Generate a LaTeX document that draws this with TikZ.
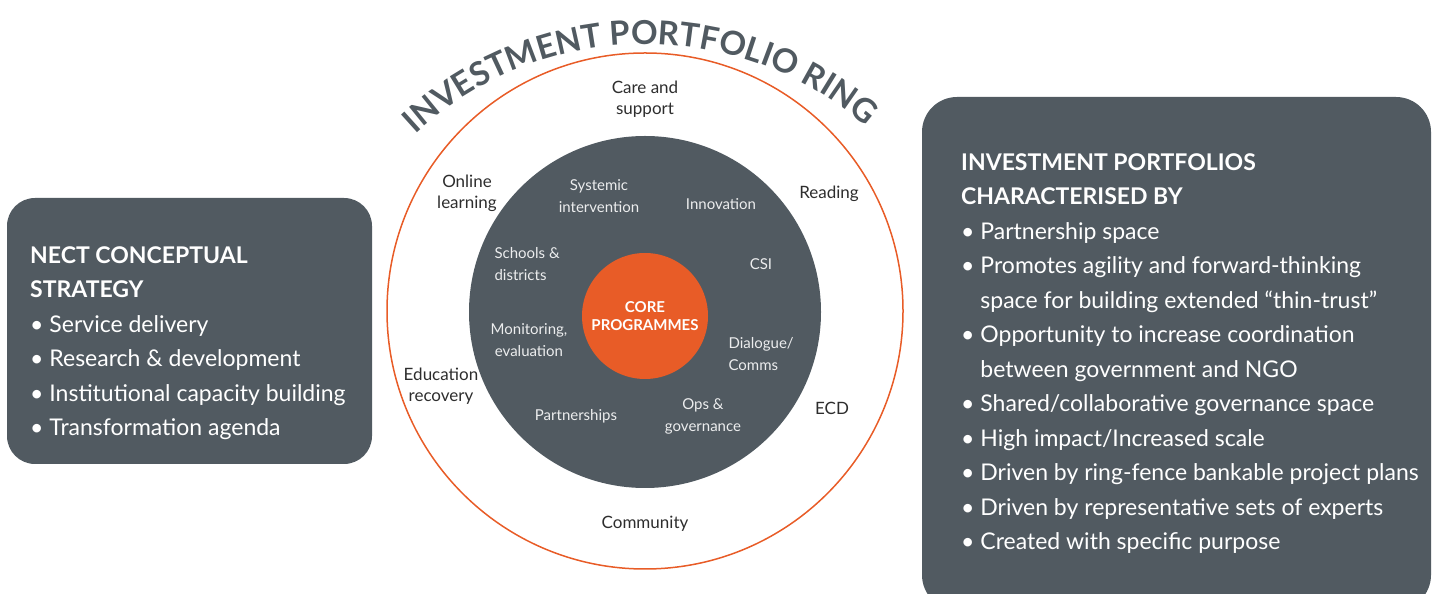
\documentclass[tikz,border=0pt]{standalone}
\usepackage{fontspec}
\setmainfont{Lato}
\usepackage{tikz}
\usetikzlibrary{shapes,positioning,decorations.text}
\definecolor{nectgrey}{RGB}{81,90,97}
\definecolor{nectorange}{RGB}{232,92,39}
\definecolor{ringtext}{RGB}{45,45,45}
\definecolor{softwhite}{RGB}{236,237,238}
\tikzstyle{panel} = [rectangle, fill=nectgrey, inner sep=0pt]
\tikzstyle{paneltext} = [anchor=north west, inner sep=0pt, align=left, text=white, font=\fontsize{23}{34.5}\selectfont]
\tikzstyle{ringlabel} = [align=center, text=ringtext, font=\fontsize{17}{21}\selectfont]
\tikzstyle{corelabel} = [align=center, text=softwhite, font=\fontsize{15}{22}\selectfont]
\newcommand{\bul}{\textbullet~}
\newcommand{\nobul}{\hphantom{\textbullet~}}

\begin{document}
\begin{tikzpicture}[x=1pt, y=1pt]
\useasboundingbox (0,0) rectangle (1438,594);

% Side panels
\node[panel, rounded corners=28pt, minimum width=365pt, minimum height=266pt] (strategy) at (189.5,263) {};
\node[panel, rounded corners=35pt, minimum width=509pt, minimum height=513pt] (traits) at (1176.5,240.5) {};

\node[paneltext] (strategytext) at (30,348) {%
{\bfseries NECT CONCEPTUAL}\\
{\bfseries STRATEGY}\\
\bul Service delivery\\
\bul Research \& development\\
\bul Institutional capacity building\\
\bul Transformation agenda};

\node[paneltext] (traitstext) at (961,441) {%
{\bfseries INVESTMENT PORTFOLIOS}\\
{\bfseries CHARACTERISED BY}\\
\bul Partnership space\\
\bul Promotes agility and forward-thinking\\
\nobul space for building extended “thin-trust”\\
\bul Opportunity to increase coordination\\
\nobul between government and NGO\\
\bul Shared/collaborative governance space\\
\bul High impact/Increased scale\\
\bul Driven by ring-fence bankable project plans\\
\bul Driven by representative sets of experts\\
\bul Created with specific purpose};

% Rings
\node[circle, draw=nectorange, line width=1.5pt, minimum size=516pt, inner sep=0pt] (ring) at (645,283) {};
\node[circle, fill=nectgrey, minimum size=352pt, inner sep=0pt] (portfolio) at (645,282) {};
\node[circle, fill=nectorange, minimum size=126pt, inner sep=0pt, align=center, text=white,
  font=\fontsize{15}{18}\selectfont\bfseries] (core) at (645,278) {CORE\\PROGRAMMES};

% Title along the ring
\path[decorate, decoration={text along path, text align=center,
  text={|\fontsize{33}{33}\selectfont\bfseries\color{nectgrey}|INVESTMENT PORTFOLIO RING}}]
  (645,212) ++(132:338) arc[start angle=132, end angle=50, radius=338];

% Outer ring portfolios
\node[ringlabel] (care) at (645,495) {Care and\\support};
\node[ringlabel] (online) at (467,401) {Online\\learning};
\node[ringlabel] (reading) at (829,400) {Reading};
\node[ringlabel] (recovery) at (441,208) {Education\\recovery};
\node[ringlabel] (ecd) at (832,186) {ECD};
\node[ringlabel] (community) at (645,70) {Community};

% Inner programme areas
\node[corelabel] (systemic) at (599,398) {Systemic\\intervention};
\node[corelabel] (innovation) at (721,390) {Innovation};
\node[corelabel, anchor=west, align=left] (schools) at (491,330) {Schools \&\\districts};
\node[corelabel] (csi) at (761,330) {CSI};
\node[corelabel] (monitoring) at (529,254) {Monitoring,\\evaluation};
\node[corelabel, anchor=west, align=left] (dialogue) at (725,240) {Dialogue/\\Comms};
\node[corelabel] (partnerships) at (576,178) {Partnerships};
\node[corelabel] (ops) at (703,178) {Ops \&\\governance};
\end{tikzpicture}
\end{document}
